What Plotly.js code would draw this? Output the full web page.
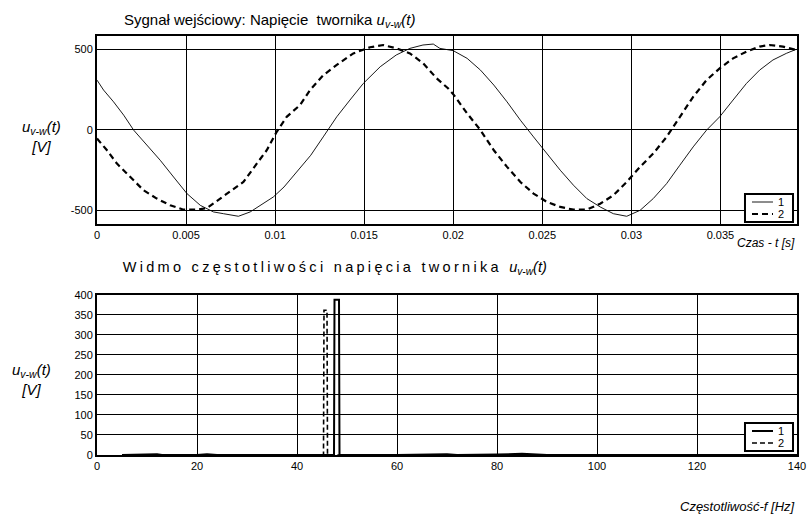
<!DOCTYPE html>
<html>
<head>
<meta charset="utf-8">
<script src="https://cdn.plot.ly/plotly-3.0.1.min.js"></script>
<style>
html,body{margin:0;padding:0;background:#fff;}
#chart{width:808px;height:516px;}
.annotation[data-index="1"] .annotation-text{letter-spacing:3.3px;}
.annotation[data-index="1"] .annotation-text tspan{letter-spacing:0;}
</style>
</head>
<body>
<div id="chart"></div>
<script>
// ---- Top chart: input signal u_v-w(t) ----
const t1 = [0,0.00037,0.00093,0.0015,0.00206,0.0028,0.00355,0.0043,0.00505,0.0058,0.00654,0.0071,0.00794,0.0086,0.00935,0.0099,0.0105,0.0112,0.012,0.0127,0.01346,0.0142,0.01495,0.0159,0.0168,0.01757,0.0183,0.01888,0.01925,0.02,0.02078,0.02153,0.02228,0.02302,0.02377,0.02451,0.02526,0.02601,0.02675,0.0275,0.02825,0.02899,0.02974,0.03049,0.03123,0.03198,0.03272,0.03347,0.03422,0.03496,0.03571,0.03646,0.0372,0.03795,0.0387,0.03925];
const u1 = [309,247,174,91,-2,-95,-189,-293,-396,-469,-510,-521,-537,-510,-459,-417,-355,-261,-158,-44,81,185,288,392,465,506,527,533,506,492,444,371,278,174,60,-44,-147,-251,-344,-427,-479,-521,-537,-500,-427,-334,-220,-106,-2,81,185,288,371,434,475,500];
const t2 = [0,0.00056,0.00112,0.00187,0.00262,0.00336,0.00411,0.00486,0.0056,0.00617,0.00692,0.00766,0.00822,0.00897,0.00953,0.01009,0.01065,0.0114,0.01196,0.01271,0.01346,0.01439,0.01533,0.01607,0.01682,0.01757,0.01832,0.01907,0.01972,0.02004,0.02078,0.02153,0.02228,0.02302,0.02377,0.02451,0.02526,0.02601,0.02675,0.0275,0.02825,0.02899,0.02974,0.03049,0.03123,0.03198,0.03272,0.03347,0.03422,0.03496,0.03571,0.03646,0.0372,0.03776,0.03851,0.03925];
const u2 = [-54,-127,-210,-293,-376,-427,-469,-496,-496,-486,-427,-365,-324,-210,-127,-12,81,154,247,340,403,475,513,527,506,475,413,320,257,216,102,-2,-127,-230,-324,-396,-448,-479,-496,-496,-459,-407,-324,-230,-147,-44,81,205,309,382,444,486,517,527,517,496];
const topXTicks = [0,0.005,0.01,0.015,0.02,0.025,0.03,0.035];
const topXLabels = ["0","0.005","0.01","0.015","0.02","0.025","0.03","0.035"];
const topYTicks = [-500,0,500];
const topYLabels = ["-500","0","500"];

// ---- Bottom chart: spectrum ----
const f1 = [5,10,11,12,13,20,22,24,30,47.4,47.5,48.4,48.5,60,70,72,80,85,88,90,100,140];
const a1 = [0,1,3,2,0,0,2,0,0,0,388,388,0,0,2,0,1,3,1,0,0,0];
const f2 = [5,45.3,45.4,46.0,46.1,140];
const a2 = [0,0,362,362,0,0];
const botXTicks = [0,20,40,60,80,100,120,140];
const botYTicks = [0,50,100,150,200,250,300,350,400];

const legendNames = ["1","2"];

const FONT = "Liberation Sans, Arial, sans-serif";

const styleTop = [{color:'#000', width:0.9}, {color:'#000', width:2.2, dash:'6px,4px'}];
const styleBot = [{color:'#000', width:2}, {color:'#000', width:1.6, dash:'5px,3px'}];

const traces = [
  {x:t1, y:u1, xaxis:'x', yaxis:'y', mode:'lines', name:legendNames[0], line:styleTop[0]},
  {x:t2, y:u2, xaxis:'x', yaxis:'y', mode:'lines', name:legendNames[1], line:styleTop[1]},
  {x:f1, y:a1, xaxis:'x2', yaxis:'y2', mode:'lines', name:legendNames[0], line:styleBot[0]},
  {x:f2, y:a2, xaxis:'x2', yaxis:'y2', mode:'lines', name:legendNames[1], line:styleBot[1]}
];

const axisCommon = {
  showline:true, mirror:true, linewidth:2, linecolor:'#000',
  showgrid:true, gridcolor:'#000', gridwidth:1, zeroline:false,
  ticks:'', tickfont:{family:FONT, size:11, color:'#000'}, fixedrange:true
};

// compact boxed legends (paper coordinates)
function legendBox(x0, x1, y0, y1, rows, styles, lx0, lx1, tx) {
  const shapes = [{type:'rect', xref:'paper', yref:'paper', x0:x0, x1:x1, y0:y0, y1:y1,
    fillcolor:'#fff', line:{color:'#000', width:2}, layer:'above'}];
  const anns = [];
  rows.forEach((ry, i) => {
    shapes.push({type:'line', xref:'paper', yref:'paper', x0:lx0, x1:lx1, y0:ry, y1:ry,
      line:Object.assign({}, styles[i]), layer:'above'});
    anns.push({xref:'paper', yref:'paper', x:tx, y:ry, xanchor:'center', yanchor:'middle',
      showarrow:false, borderpad:0, text:legendNames[i], font:{family:FONT, size:11, color:'#000'}});
  });
  return {shapes, anns};
}
const legTop = legendBox(0.9257, 0.9943, 0.5561, 0.6229, [0.6038, 0.5752], styleTop, 0.9357, 0.9657, 0.9771);
const legBot = legendBox(0.9257, 0.9943, 0.0095, 0.0764, [0.0573, 0.0286], styleBot, 0.9357, 0.9657, 0.9771);

const layout = {
  width:808, height:516,
  margin:{l:97, r:11, t:36, b:61},
  paper_bgcolor:'#fff', plot_bgcolor:'#fff',
  font:{family:FONT, color:'#000'},
  showlegend:false,
  xaxis:Object.assign({}, axisCommon, {domain:[0,1], anchor:'y', range:[0,0.0393],
    tickmode:'array', tickvals:topXTicks, ticktext:topXLabels}),
  yaxis:Object.assign({}, axisCommon, {domain:[0.5513,1], anchor:'x', range:[-585,583],
    tickmode:'array', tickvals:topYTicks, ticktext:topYLabels}),
  xaxis2:Object.assign({}, axisCommon, {domain:[0,1], anchor:'y2', range:[0,140],
    tickmode:'array', tickvals:botXTicks}),
  yaxis2:Object.assign({}, axisCommon, {domain:[0,0.3819], anchor:'x2', range:[0,400],
    tickmode:'array', tickvals:botYTicks}),
  shapes:[].concat(legTop.shapes, legBot.shapes),
  annotations:[
    {xref:'paper', yref:'paper', x:0.2471, y:1.038, xanchor:'center', yanchor:'middle', showarrow:false,
     text:'Sygnał wejściowy: Napięcie\u00a0 twornika <i>u<sub>v-w</sub>(t)</i>',
     font:{family:FONT, size:15, color:'#000'}},
    {xref:'paper', yref:'paper', x:0.3386, y:0.446, xanchor:'center', yanchor:'middle', showarrow:false,
     text:'Widmo częstotliwości napięcia twornika <i>u<sub>v-w</sub>(t)</i>',
     font:{family:FONT, size:14.5, color:'#000'}},
    {xref:'paper', yref:'paper', x:-0.079, y:0.761, xanchor:'center', yanchor:'middle', showarrow:false,
     text:'<i>u<sub>v-w</sub>(t)</i><br><i>[V]</i>', align:'center',
     font:{family:FONT, size:15, color:'#000'}},
    {xref:'paper', yref:'paper', x:-0.093, y:0.179, xanchor:'center', yanchor:'middle', showarrow:false,
     text:'<i>u<sub>v-w</sub>(t)</i><br><i>[V]</i>', align:'center',
     font:{family:FONT, size:15, color:'#000'}},
    {xref:'paper', yref:'paper', x:1, y:0.506, xanchor:'right', yanchor:'middle', showarrow:false,
     text:'<i>Czas - t [s]</i>', font:{family:FONT, size:12, color:'#000'}},
    {xref:'paper', yref:'paper', x:1, y:-0.124, xanchor:'right', yanchor:'middle', showarrow:false,
     text:'<i>Częstotliwość-f [Hz]</i>', font:{family:FONT, size:13, color:'#000'}}
  ].concat(legTop.anns, legBot.anns)
};

Plotly.newPlot('chart', traces, layout, {staticPlot:true, displayModeBar:false});
</script>
</body>
</html>
